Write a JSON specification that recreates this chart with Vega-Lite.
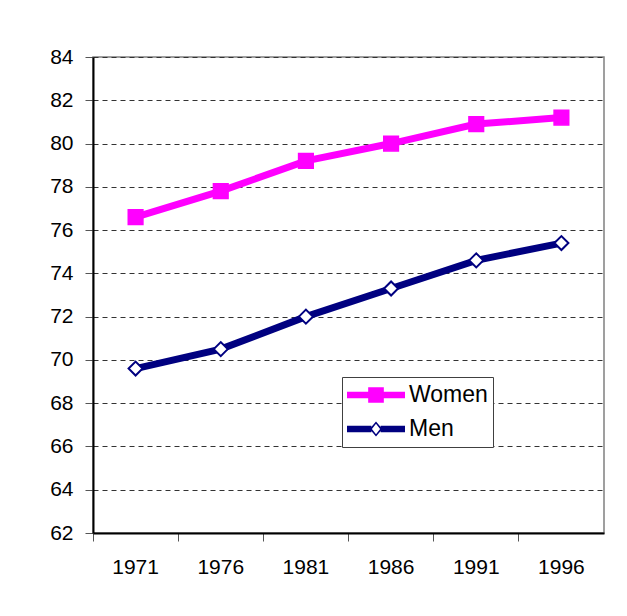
{
  "$schema": "https://vega.github.io/schema/vega-lite/v6.json",
  "width": 511,
  "height": 476,
  "autosize": {"type": "none"},
  "padding": {"left": 93, "top": 57, "right": 23, "bottom": 83},
  "background": "white",
  "config": {
    "font": "Liberation Sans",
    "view": {"stroke": "#808080", "strokeWidth": 1.5, "fill": "white"}
  },
  "data": {
    "values": [
      {"year": "1971", "series": "Women", "value": 76.6},
      {"year": "1976", "series": "Women", "value": 77.8},
      {"year": "1981", "series": "Women", "value": 79.2},
      {"year": "1986", "series": "Women", "value": 80.0},
      {"year": "1991", "series": "Women", "value": 80.9},
      {"year": "1996", "series": "Women", "value": 81.2},
      {"year": "1971", "series": "Men", "value": 69.6},
      {"year": "1976", "series": "Men", "value": 70.5},
      {"year": "1981", "series": "Men", "value": 72.0},
      {"year": "1986", "series": "Men", "value": 73.3},
      {"year": "1991", "series": "Men", "value": 74.6},
      {"year": "1996", "series": "Men", "value": 75.4}
    ]
  },
  "encoding": {
    "x": {
      "field": "year",
      "type": "ordinal",
      "bandPosition": 0.5,
      "scale": {"type": "band", "paddingInner": 0, "paddingOuter": 0},
      "axis": {
        "title": null,
        "bandPosition": 0,
        "labelAngle": 0,
        "labelFontSize": 21,
        "labelColor": "black",
        "labelPadding": 15,
        "tickSize": 8,
        "tickColor": "#555555",
        "tickWidth": 1,
        "domainColor": "black",
        "domainWidth": 2,
        "grid": false
      }
    },
    "y": {
      "field": "value",
      "type": "quantitative",
      "scale": {"domain": [62, 84], "nice": false, "zero": false},
      "axis": {
        "title": null,
        "values": [62, 64, 66, 68, 70, 72, 74, 76, 78, 80, 82, 84],
        "labelFontSize": 21,
        "labelColor": "black",
        "labelPadding": 12,
        "tickSize": 8,
        "tickColor": "#555555",
        "tickWidth": 1,
        "domainColor": "black",
        "domainWidth": 2,
        "grid": true,
        "gridColor": "#333333",
        "gridWidth": 1,
        "gridDash": [5, 4]
      }
    }
  },
  "layer": [
    {
      "mark": {"type": "line", "strokeWidth": 7, "strokeJoin": "miter"},
      "encoding": {
        "color": {
          "field": "series",
          "type": "nominal",
          "scale": {"domain": ["Women", "Men"], "range": ["#ff00ff", "#000080"]},
          "legend": {
            "title": null,
            "orient": "none",
            "legendX": 249,
            "legendY": 320,
            "direction": "vertical",
            "fillColor": "white",
            "strokeColor": "#404040",
            "padding": 5,
            "symbolSize": 3364,
            "symbolType": {"expr": "datum.value === 'Men' ? 'M-1,-0.11H-0.16V0.11H-1Z M0.16,-0.11H1V0.11H0.16Z M0,-0.26L0.22,0L0,0.26L-0.22,0Z M0,-0.18L-0.14,0L0,0.18L0.14,0Z' : 'M-1,-0.11H1V0.11H-1Z M-0.27,-0.27H0.27V0.27H-0.27Z'"},
            "symbolFillColor": {"expr": "datum.value === 'Men' ? '#000080' : '#ff00ff'"},
            "symbolStrokeWidth": 0,
            "clipHeight": 26,
            "rowPadding": 8,
            "labelOffset": 4,
            "labelFontSize": 23,
            "labelColor": "black",
            "labelFont": "Liberation Sans",
            "symbolOpacity": 1
          }
        }
      }
    },
    {
      "transform": [{"filter": "datum.series === 'Women'"}],
      "mark": {"type": "point", "shape": "square", "filled": true, "opacity": 1, "fill": "#ff00ff", "stroke": "#ff00ff", "strokeWidth": 1.5, "size": 215},
      "encoding": {}
    },
    {
      "transform": [{"filter": "datum.series === 'Men'"}],
      "mark": {"type": "point", "shape": "diamond", "filled": true, "opacity": 1, "fill": "#ffffff", "stroke": "#000080", "strokeWidth": 2, "size": 196},
      "encoding": {}
    }
  ]
}
